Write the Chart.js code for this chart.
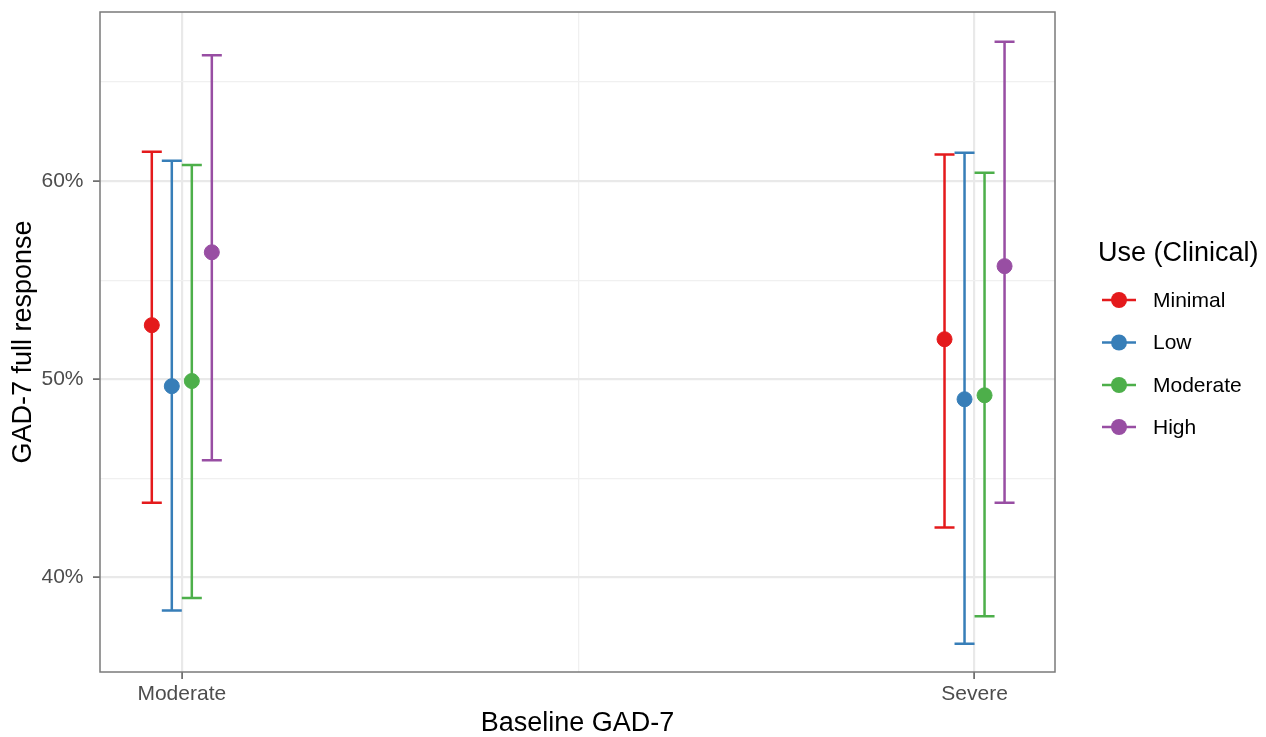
<!DOCTYPE html>
<html>
<head>
<meta charset="utf-8">
<script src="https://cdn.jsdelivr.net/npm/chart.js@4/dist/chart.umd.min.js"></script>
<style>
  html, body { margin: 0; padding: 0; background: #ffffff; }
  #wrap { width: 1266px; height: 737px; position: relative; }
</style>
</head>
<body>
<div id="wrap"><canvas id="c" width="1266" height="737"></canvas></div>
<script>
// ---- data ----
const categories = ['Moderate', 'Severe'];
const seriesNames = ['Minimal', 'Low', 'Moderate', 'High'];
const seriesColors = ['#E41A1C', '#377EB8', '#4DAF4A', '#984EA3'];

// estimates (%), per baseline category [Moderate, Severe]
const minimalEst = [52.73, 52.02];
const lowEst = [49.65, 48.99];
const moderateEst = [49.91, 49.19];
const highEst = [56.41, 55.71];

// lower confidence limits (%)
const minimalLow = [43.77, 42.51];
const lowLow = [38.33, 36.65];
const moderateLow = [38.95, 38.03];
const highLow = [45.91, 43.77];

// upper confidence limits (%)
const minimalHigh = [61.48, 61.35];
const lowHigh = [61.03, 61.43];
const moderateHigh = [60.81, 60.42];
const highHigh = [66.36, 67.04];

const yTickValues = [40, 50, 60];
const yTickLabels = ['40%', '50%', '60%'];
const yMinorValues = [45, 55, 65];

const legendTitle = 'Use (Clinical)';
const xTitle = 'Baseline GAD-7';
const yTitle = 'GAD-7 full response';

// ---- build ----
const estimates = [minimalEst, lowEst, moderateEst, highEst];
const lowers = [minimalLow, lowLow, moderateLow, highLow];
const uppers = [minimalHigh, lowHigh, moderateHigh, highHigh];
const dodgeStep = 0.02524;
const catPos = categories.map((c, i) => i + 1);
const offsetOf = k => (k - (seriesNames.length - 1) / 2) * dodgeStep;

const datasets = seriesNames.map((name, k) => ({
  label: name,
  data: categories.map((c, j) => ({ x: catPos[j] + offsetOf(k), y: estimates[k][j] })),
  backgroundColor: seriesColors[k],
  borderColor: seriesColors[k],
  pointRadius: 7.5,
  pointBorderWidth: 1,
  pointHoverRadius: 7.5,
  showLine: false
}));

const FONT = "'Liberation Sans', Arial, Helvetica, sans-serif";

const errorBars = {
  id: 'errorBars',
  beforeDatasetsDraw(chart) {
    const ctx = chart.ctx, xs = chart.scales.x, ys = chart.scales.y;
    ctx.save();
    ctx.lineWidth = 2.5;
    ctx.lineCap = 'butt';
    seriesNames.forEach((name, k) => {
      ctx.strokeStyle = seriesColors[k];
      categories.forEach((c, j) => {
        const x = xs.getPixelForValue(catPos[j] + offsetOf(k));
        const y1 = ys.getPixelForValue(lowers[k][j]);
        const y2 = ys.getPixelForValue(uppers[k][j]);
        const hw = 10;
        ctx.beginPath();
        ctx.moveTo(x, y1); ctx.lineTo(x, y2);
        ctx.moveTo(x - hw, y1); ctx.lineTo(x + hw, y1);
        ctx.moveTo(x - hw, y2); ctx.lineTo(x + hw, y2);
        ctx.stroke();
      });
    });
    ctx.restore();
  }
};

const panelBorder = {
  id: 'panelBorder',
  afterDatasetsDraw(chart) {
    const { ctx, chartArea: a } = chart;
    ctx.save();
    ctx.strokeStyle = '#7a7a7a';
    ctx.lineWidth = 1.5;
    ctx.strokeRect(a.left, a.top, a.right - a.left, a.bottom - a.top);
    ctx.restore();
  }
};

const customLegend = {
  id: 'customLegend',
  afterDraw(chart) {
    const ctx = chart.ctx;
    ctx.save();
    ctx.fillStyle = '#000';
    ctx.textBaseline = 'middle';
    ctx.textAlign = 'left';
    ctx.font = '27px ' + FONT;
    ctx.fillText(legendTitle, 1098, 254);
    ctx.font = '21px ' + FONT;
    const ys = [300, 342.5, 385, 427];
    seriesNames.forEach((name, k) => {
      const y = ys[k];
      ctx.strokeStyle = seriesColors[k];
      ctx.lineWidth = 2.5;
      ctx.beginPath(); ctx.moveTo(1102, y); ctx.lineTo(1136, y); ctx.stroke();
      ctx.fillStyle = seriesColors[k];
      ctx.beginPath(); ctx.arc(1119, y, 8, 0, Math.PI * 2); ctx.fill();
      ctx.fillStyle = '#000';
      ctx.fillText(name, 1153, y + 1);
    });
    ctx.restore();
  }
};

new Chart(document.getElementById('c'), {
  type: 'scatter',
  data: { datasets },
  plugins: [errorBars, panelBorder, customLegend],
  options: {
    responsive: false,
    animation: false,
    events: [],
    layout: { padding: { left: 0, right: 211, top: 12, bottom: 0 } },
    plugins: { legend: { display: false }, tooltip: { enabled: false } },
    scales: {
      x: {
        type: 'linear',
        min: 0.8968,
        max: 2.1015,
        afterFit(s) { s.height = 65; s.paddingLeft = 0; s.paddingRight = 0; },
        afterBuildTicks(s) {
          s.ticks = [catPos[0], (catPos[0] + catPos[1]) / 2, catPos[1]].map(v => ({ value: v }));
        },
        border: { display: false },
        grid: {
          color: c => (catPos.includes(c.tick && c.tick.value) ? '#e9e9e9' : '#f0f0f0'),
          lineWidth: c => (catPos.includes(c.tick && c.tick.value) ? 2.2 : 1.3),
          tickColor: c => (catPos.includes(c.tick && c.tick.value) ? '#555' : 'rgba(0,0,0,0)'),
          tickWidth: 1.5,
          tickLength: 7,
          drawTicks: true
        },
        ticks: {
          autoSkip: false,
          maxRotation: 0,
          padding: 3,
          color: '#4d4d4d',
          font: { family: FONT, size: 21 },
          callback: v => { const i = catPos.indexOf(v); return i >= 0 ? categories[i] : ''; }
        },
        title: {
          display: true,
          text: xTitle,
          color: '#000',
          font: { family: FONT, size: 27, lineHeight: 1 },
          padding: { top: 0, bottom: 0 }
        }
      },
      y: {
        type: 'linear',
        min: 35.22,
        max: 68.54,
        afterFit(s) { s.width = 100; s.paddingTop = 0; s.paddingBottom = 0; },
        afterBuildTicks(s) {
          s.ticks = [...yTickValues, ...yMinorValues].sort((a, b) => a - b).map(v => ({ value: v }));
        },
        border: { display: false },
        grid: {
          color: c => (yTickValues.includes(c.tick && c.tick.value) ? '#e9e9e9' : '#f0f0f0'),
          lineWidth: c => (yTickValues.includes(c.tick && c.tick.value) ? 2.2 : 1.3),
          tickColor: c => (yTickValues.includes(c.tick && c.tick.value) ? '#555' : 'rgba(0,0,0,0)'),
          tickWidth: 1.5,
          tickLength: 7,
          drawTicks: true
        },
        ticks: {
          autoSkip: false,
          padding: 9.5,
          color: '#4d4d4d',
          font: { family: FONT, size: 21 },
          callback: v => { const i = yTickValues.indexOf(v); return i >= 0 ? yTickLabels[i] : ''; }
        },
        title: {
          display: true,
          text: yTitle,
          color: '#000',
          font: { family: FONT, size: 27, lineHeight: 1 },
          padding: { top: 10, bottom: 0 }
        }
      }
    }
  }
});
</script>
</body>
</html>
